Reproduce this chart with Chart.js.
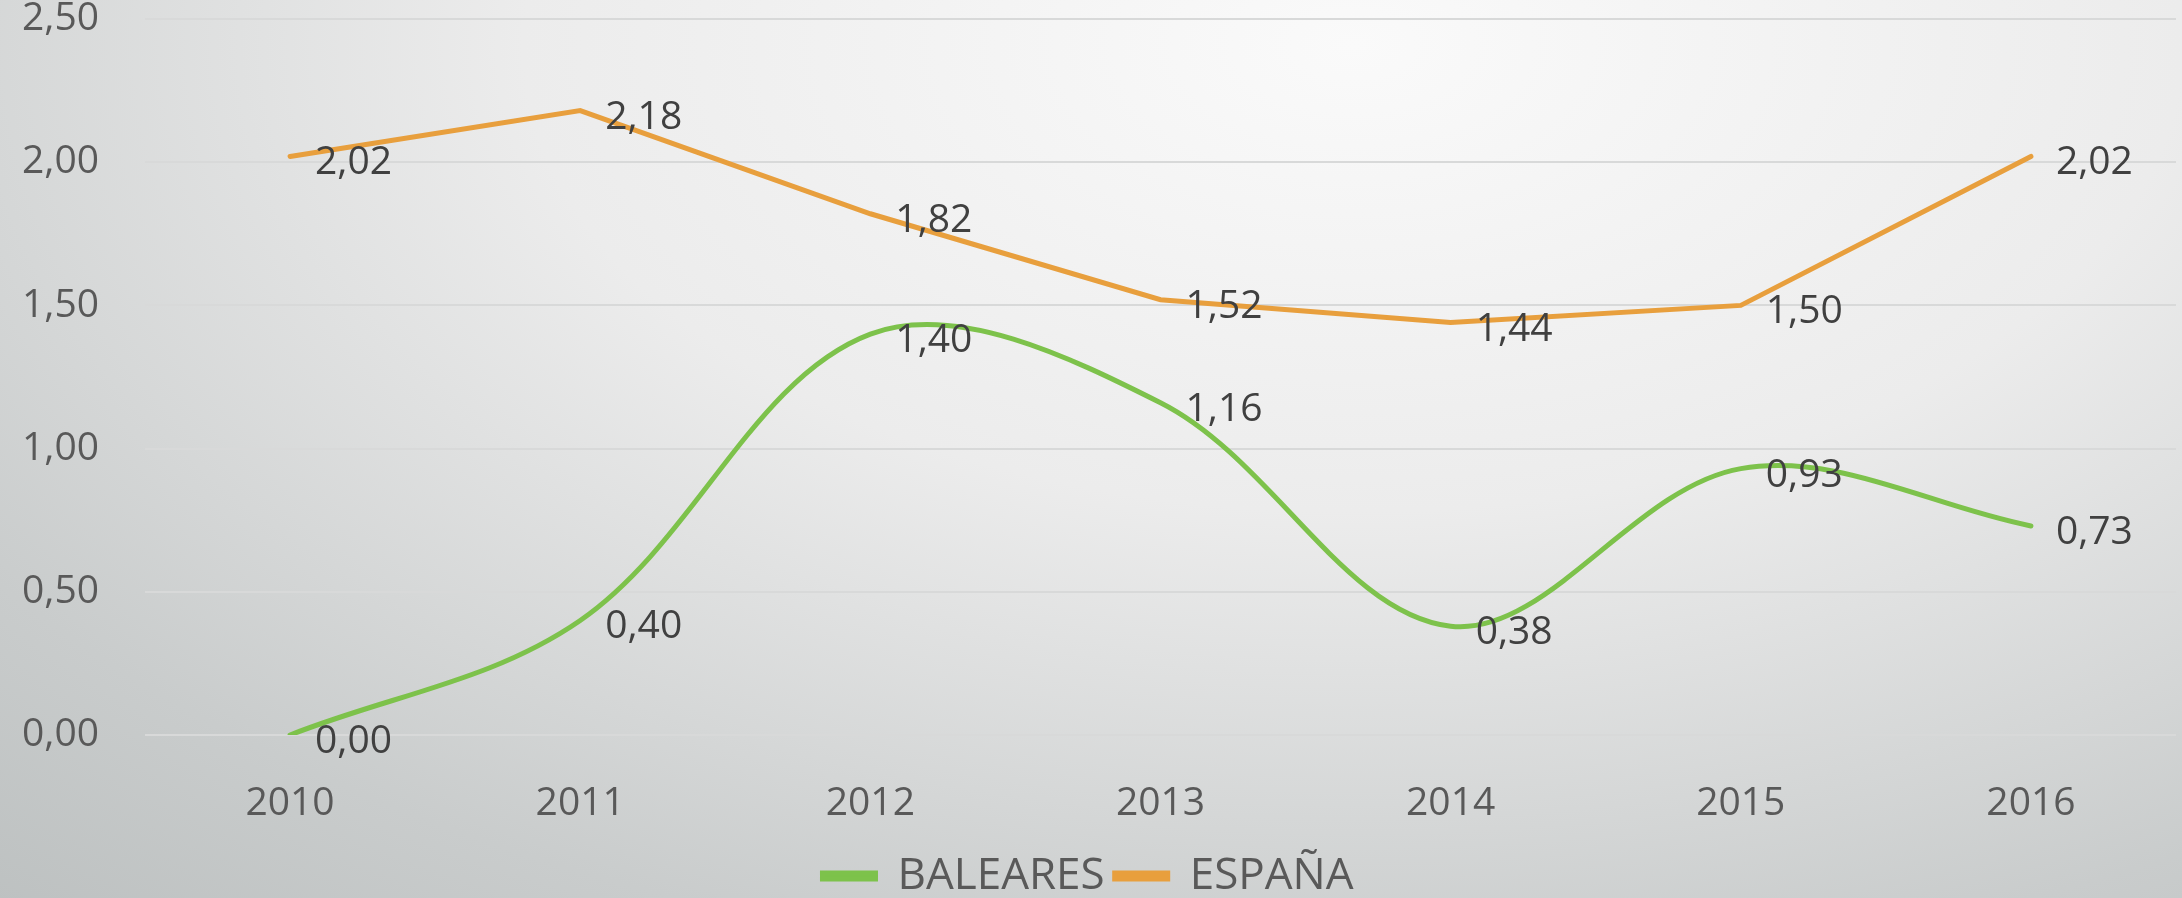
<!DOCTYPE html>
<html lang="es">

<head>
    <meta charset="UTF-8">
    <title>Baleares vs España</title>
    <script src="https://cdn.jsdelivr.net/npm/chart.js"></script>
    <style>
        html, body { margin: 0; padding: 0; }
        body {
            width: 2182px;
            height: 898px;
            overflow: hidden;
            background: radial-gradient(ellipse 95% 130% at 62% 5%, #fafafa 0%, #ececec 40%, #c9cccc 80%, #bcc0c0 100%);
        }
        canvas { display: block; }
    </style>
</head>

<body>
    <canvas id="myChart" width="2182" height="898"></canvas>

    <script>
        const years = ['2010', '2011', '2012', '2013', '2014', '2015', '2016'];
        const baleares = [0.00, 0.40, 1.40, 1.16, 0.38, 0.93, 0.73];
        const espana = [2.02, 2.18, 1.82, 1.52, 1.44, 1.50, 2.02];
        const yMin = 0, yMax = 2.5, yStep = 0.5;

        const fmt = v => v.toFixed(2).replace('.', ',');

        // value labels to the right of each point (like Excel "Right" position)
        const dataLabels = {
            id: 'dataLabels',
            afterDatasetsDraw(chart) {
                const ctx = chart.ctx;
                ctx.save();
                ctx.font = '39px "Open Sans"';
                ctx.fillStyle = '#404040';
                ctx.textAlign = 'left';
                ctx.textBaseline = 'alphabetic';
                chart.data.datasets.forEach((ds, i) => {
                    chart.getDatasetMeta(i).data.forEach((pt, j) => {
                        ctx.fillText(fmt(ds.data[j]), pt.x + 25, pt.y + 18);
                    });
                });
                ctx.restore();
            }
        };

        const ctx = document.getElementById('myChart').getContext('2d');
        const myChart = new Chart(ctx, {
            type: 'line',
            data: {
                labels: years,
                datasets: [
                    {
                        label: 'BALEARES',
                        data: baleares,
                        borderColor: '#7dc24b',
                        backgroundColor: '#7dc24b',
                        borderWidth: 5,
                        borderCapStyle: 'round',
                        tension: 0.35,
                        pointRadius: 0,
                        fill: false
                    },
                    {
                        label: 'ESPAÑA',
                        data: espana,
                        borderColor: '#e89f3d',
                        backgroundColor: '#e89f3d',
                        borderWidth: 5,
                        borderCapStyle: 'round',
                        tension: 0,
                        pointRadius: 0,
                        fill: false
                    }
                ]
            },
            options: {
                responsive: false,
                animation: false,
                devicePixelRatio: 1,
                layout: { padding: { top: 19, right: 6, left: 0, bottom: -10 } },
                plugins: {
                    tooltip: { enabled: false },
                    legend: {
                        position: 'bottom',
                        labels: {
                            color: '#595959',
                            font: { family: 'Open Sans', size: 44 },
                            boxWidth: 53,
                            boxHeight: 6,
                            padding: 10
                        }
                    }
                },
                scales: {
                    x: {
                        offset: true,
                        grid: { display: false },
                        border: { display: false },
                        ticks: {
                            color: '#595959',
                            font: { family: 'Open Sans', size: 39 },
                            padding: 37,
                            maxRotation: 0
                        },
                        afterFit: s => { s.height = 109; }
                    },
                    y: {
                        min: yMin,
                        max: yMax,
                        grid: { color: '#d8d9d9', lineWidth: 2, drawTicks: false },
                        border: { display: false },
                        ticks: {
                            stepSize: yStep,
                            color: '#595959',
                            font: { family: 'Open Sans', size: 39, lineHeight: 0.9 },
                            padding: 46,
                            callback: v => fmt(v)
                        },
                        afterFit: s => {
                            s.width = 145;
                            s.paddingTop = 0;
                            s.paddingBottom = 0;
                        }
                    }
                }
            },
            plugins: [dataLabels]
        });
    </script>
</body>

</html>
